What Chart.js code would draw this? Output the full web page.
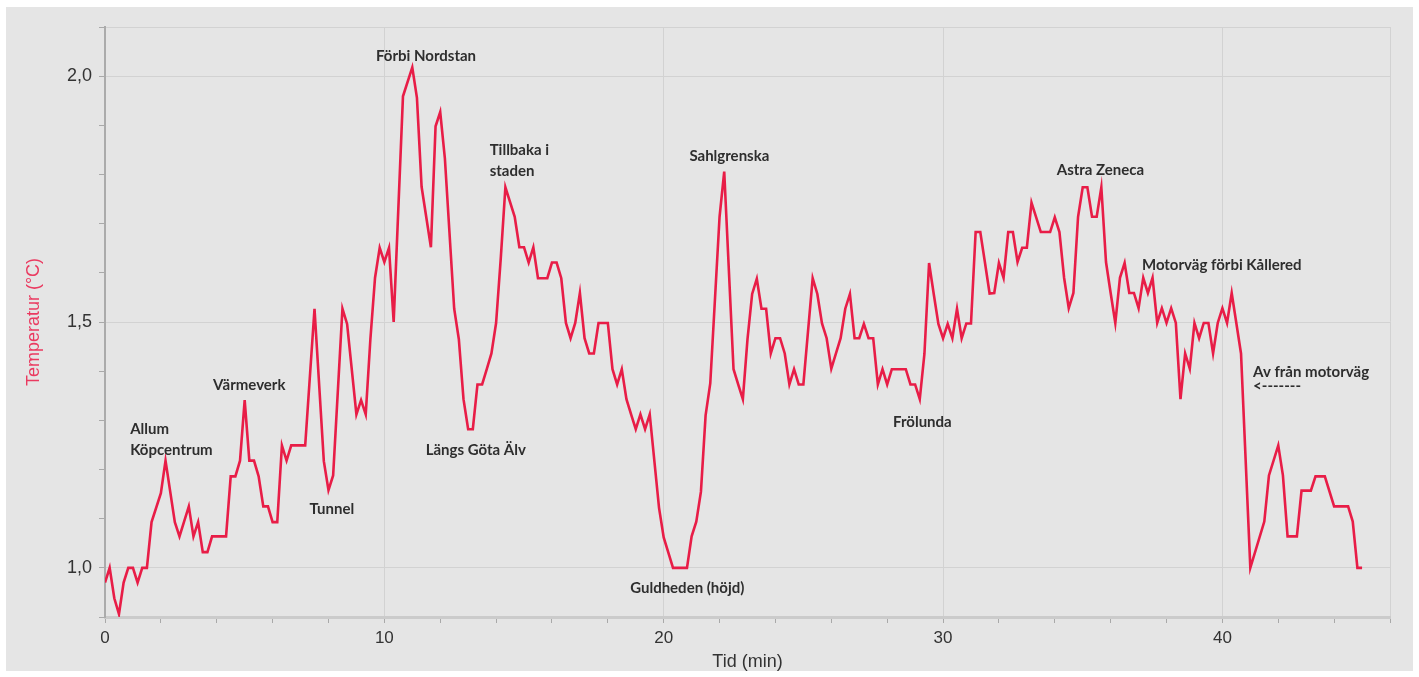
<!DOCTYPE html>
<html>
<head>
<meta charset="utf-8">
<script src="https://cdn.jsdelivr.net/npm/chart.js@4.4.1/dist/chart.umd.min.js"></script>
<style>
  html, body { margin: 0; padding: 0; background: #ffffff; }
  canvas { display: block; }
</style>
</head>
<body>
<canvas id="chart" width="1419" height="677"></canvas>
<script>
// Logged temperature along the route, one reading every 10 s (turning points kept).
const sampleSeconds = [
  0, 10, 20, 30, 40, 50, 60, 70, 80, 90, 100, 120, 130, 150, 160, 180, 190, 200, 210, 220,
  230, 260, 270, 280, 290, 300, 310, 320, 330, 340, 350, 360, 370, 380, 390, 400, 430, 450,
  470, 480, 490, 510, 520, 540, 550, 560, 570, 580, 590, 600, 610, 620, 640, 660, 670, 680,
  700, 710, 720, 730, 750, 760, 770, 780, 790, 800, 810, 820, 830, 840, 850, 860, 880, 890,
  900, 910, 920, 930, 950, 960, 970, 980, 990, 1000, 1010, 1020, 1030, 1040, 1050, 1060, 1080,
  1090, 1100, 1110, 1120, 1130, 1140, 1150, 1160, 1170, 1190, 1200, 1210, 1220, 1250, 1260,
  1270, 1280, 1290, 1300, 1320, 1330, 1350, 1360, 1370, 1380, 1390, 1400, 1410, 1420, 1430,
  1440, 1450, 1460, 1470, 1480, 1490, 1500, 1520, 1530, 1540, 1550, 1560, 1570, 1580, 1590,
  1600, 1610, 1620, 1630, 1640, 1650, 1660, 1670, 1680, 1690, 1720, 1730, 1740, 1750, 1760,
  1770, 1780, 1790, 1800, 1810, 1820, 1830, 1840, 1850, 1860, 1870, 1880, 1890, 1900, 1910,
  1920, 1930, 1940, 1950, 1960, 1970, 1980, 1990, 2010, 2030, 2040, 2050, 2060, 2070, 2080,
  2090, 2100, 2110, 2120, 2130, 2140, 2150, 2160, 2170, 2180, 2190, 2200, 2210, 2220, 2230,
  2240, 2250, 2260, 2270, 2280, 2290, 2300, 2310, 2320, 2330, 2340, 2350, 2360, 2370, 2380,
  2390, 2400, 2410, 2420, 2440, 2460, 2490, 2500, 2520, 2530, 2540, 2560, 2570, 2590, 2600,
  2620, 2640, 2670, 2680, 2690, 2700
];
const temperatureC = [
  0.970, 1.000, 0.938, 0.906, 0.970, 1.000, 1.000, 0.970, 1.000, 1.000, 1.093, 1.152, 1.218, 1.093, 1.064, 1.125, 1.064, 1.093, 1.032, 1.032,
  1.064, 1.064, 1.186, 1.186, 1.218, 1.341, 1.218, 1.218, 1.186, 1.125, 1.125, 1.093, 1.093, 1.249, 1.218, 1.249, 1.249, 1.527,
  1.217, 1.158, 1.188, 1.527, 1.496, 1.312, 1.341, 1.312, 1.465, 1.590, 1.651, 1.622, 1.651, 1.500, 1.959, 2.018, 1.956, 1.775,
  1.652, 1.898, 1.927, 1.833, 1.527, 1.465, 1.343, 1.282, 1.282, 1.373, 1.373, 1.404, 1.436, 1.498, 1.629, 1.774, 1.714, 1.652,
  1.652, 1.621, 1.652, 1.589, 1.589, 1.621, 1.621, 1.589, 1.498, 1.467, 1.498, 1.559, 1.467, 1.436, 1.436, 1.498, 1.498,
  1.404, 1.373, 1.404, 1.343, 1.312, 1.282, 1.312, 1.282, 1.312, 1.122, 1.062, 1.031, 1.000, 1.000, 1.064,
  1.094, 1.155, 1.310, 1.375, 1.714, 1.806, 1.404, 1.373, 1.343, 1.465, 1.557, 1.588, 1.527, 1.527, 1.436,
  1.467, 1.467, 1.436, 1.373, 1.404, 1.373, 1.373, 1.589, 1.557, 1.497, 1.467, 1.405, 1.436, 1.467, 1.527,
  1.557, 1.467, 1.467, 1.496, 1.467, 1.467, 1.373, 1.404, 1.373, 1.404, 1.404, 1.373, 1.373, 1.343, 1.435,
  1.620, 1.557, 1.496, 1.467, 1.496, 1.467, 1.527, 1.467, 1.497, 1.497, 1.683, 1.683, 1.621, 1.558, 1.559,
  1.620, 1.590, 1.683, 1.683, 1.622, 1.651, 1.651, 1.743, 1.683, 1.683, 1.713, 1.683, 1.590, 1.528, 1.559,
  1.714, 1.774, 1.774, 1.714, 1.714, 1.774, 1.622, 1.559, 1.498, 1.590, 1.620, 1.559, 1.559, 1.528, 1.590,
  1.559, 1.590, 1.498, 1.528, 1.498, 1.528, 1.498, 1.343, 1.436, 1.405, 1.498, 1.467, 1.498, 1.498, 1.436,
  1.498, 1.528, 1.498, 1.559, 1.436, 1.000, 1.094, 1.188, 1.249, 1.188, 1.064, 1.064, 1.157, 1.157, 1.186,
  1.186, 1.125, 1.125, 1.094, 1.000, 1.000
];

// Axis ranges and labelled ticks
const timeRange = [0, 46];
const tempRange = [0.9, 2.1];
const timeLabels = [0, 10, 20, 30, 40];
const tempLabels = [1.0, 1.5, 2.0];

// Place names along the route: [text lines, minute, temperature]
const placeNames = [
  [['Allum', 'Köpcentrum'], 0.90, 1.282],
  [['Värmeverk'], 3.87, 1.371],
  [['Tunnel'], 7.32, 1.120],
  [['Förbi Nordstan'], 9.70, 2.041],
  [['Tillbaka i', 'staden'], 13.77, 1.849],
  [['Längs Göta Älv'], 11.48, 1.240],
  [['Guldheden (höjd)'], 18.80, 0.958],
  [['Sahlgrenska'], 20.92, 1.837],
  [['Frölunda'], 28.21, 1.296],
  [['Astra Zeneca'], 34.07, 1.809],
  [['Motorväg förbi Kållered'], 37.12, 1.616],
  [['Av från motorväg', '<-------'], 41.10, 1.397]
];

const points = sampleSeconds.map((s, i) => ({ x: s / 60, y: temperatureC[i] }));

const LINE_RED = '#e81d47';
const GRID = '#d2d2d2';
const TICK = '#a9a9a9';

const near = (a, b) => Math.abs(a - b) < 1e-6;

const panelBackground = {
  id: 'panelBackground',
  beforeDraw(chart) {
    const ctx = chart.ctx;
    ctx.save();
    ctx.fillStyle = '#ffffff';
    ctx.fillRect(0, 0, chart.width, chart.height);
    ctx.fillStyle = '#e5e5e5';
    ctx.fillRect(6, 7, chart.width - 12, chart.height - 13);
    ctx.restore();
  }
};

const placeLabels = {
  id: 'placeLabels',
  afterDatasetsDraw(chart) {
    const { ctx, scales } = chart;
    ctx.save();
    ctx.font = 'bold 15px Lato, "Open Sans", sans-serif';
    ctx.fillStyle = '#2e2e2e';
    ctx.textAlign = 'left';
    ctx.textBaseline = 'middle';
    placeNames.forEach(([lines, t, v]) => {
      const x = scales.x.getPixelForValue(t);
      const y = scales.y.getPixelForValue(v);
      const step = lines[1] === '<-------' ? 14 : 21;
      lines.forEach((line, k) => ctx.fillText(line, x, y + k * step));
    });
    ctx.restore();
  }
};

new Chart(document.getElementById('chart'), {
  type: 'line',
  data: {
    datasets: [{
      data: points,
      borderColor: LINE_RED,
      borderWidth: 2.6,
      pointRadius: 0,
      tension: 0,
      fill: false
    }]
  },
  options: {
    responsive: false,
    animation: false,
    devicePixelRatio: 1,
    layout: { padding: { left: 0, top: 27, right: 29, bottom: 0 } },
    plugins: { legend: { display: false }, tooltip: { enabled: false } },
    scales: {
      x: {
        type: 'linear',
        min: timeRange[0],
        max: timeRange[1],
        afterFit: (scale) => { scale.height = 60; },
        border: { color: '#cbcbcb', width: 3 },
        grid: {
          color: (c) => (c.tick && (timeLabels.some(v => near(v, c.tick.value)) || near(c.tick.value, timeRange[1]))) ? GRID : 'rgba(0,0,0,0)',
          tickColor: TICK,
          tickLength: 6
        },
        ticks: {
          stepSize: 2,
          autoSkip: false,
          maxRotation: 0,
          padding: 5,
          color: '#333333',
          font: { family: '"Liberation Sans", Arial, sans-serif', size: 17 },
          callback: (v) => timeLabels.some(t => near(t, v)) ? String(v) : ''
        },
        title: {
          display: true,
          text: 'Tid (min)',
          color: '#333333',
          font: { family: '"Liberation Sans", Arial, sans-serif', size: 18 },
          padding: { top: 0, bottom: 4 }
        }
      },
      y: {
        type: 'linear',
        min: tempRange[0],
        max: tempRange[1],
        afterFit: (scale) => { scale.width = 105; },
        border: { color: '#ababab', width: 2 },
        grid: {
          color: (c) => (c.tick && (tempLabels.some(v => near(v, c.tick.value)) || near(c.tick.value, tempRange[1]))) ? GRID : 'rgba(0,0,0,0)',
          tickColor: TICK,
          tickLength: 6
        },
        ticks: {
          stepSize: 0.1,
          autoSkip: false,
          padding: 7,
          color: '#333333',
          font: { family: '"Liberation Sans", Arial, sans-serif', size: 18 },
          callback: (v) => tempLabels.some(t => near(t, v)) ? v.toFixed(1).replace('.', ',') : ''
        },
        title: {
          display: true,
          text: 'Temperatur (°C)',
          color: '#ea3a60',
          font: { family: '"Liberation Sans", Arial, sans-serif', size: 18 },
          padding: { top: 23, bottom: 0 }
        }
      }
    }
  },
  plugins: [panelBackground, placeLabels]
});
</script>
</body>
</html>
